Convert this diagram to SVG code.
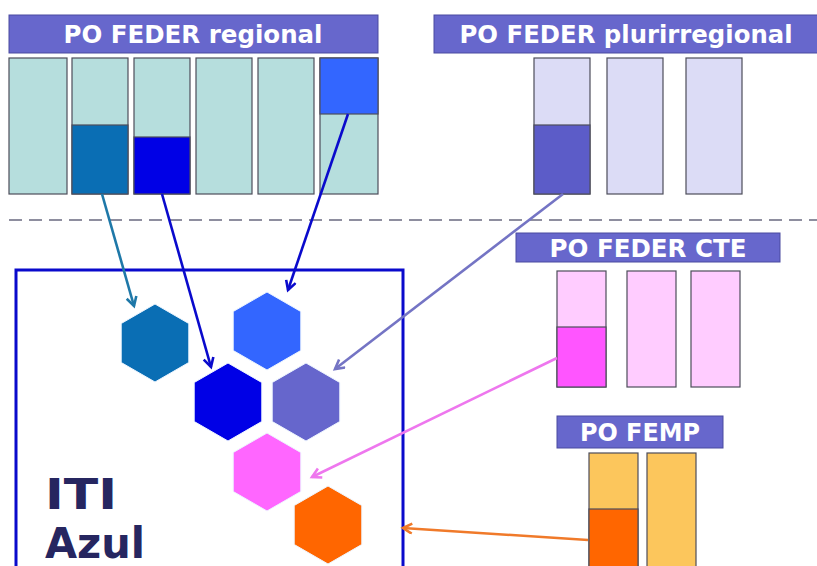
<svg xmlns="http://www.w3.org/2000/svg" width="817" height="566" viewBox="0 0 817 566">
<style>
.title{fill:#6767CC;stroke:#4a4aa0;stroke-width:1}
.tt{font-family:"DejaVu Sans",Verdana,sans-serif;font-weight:bold;font-size:24px;fill:#ffffff;text-anchor:middle}
.bar{stroke:#4d4d5a;stroke-width:1.2}
.reg{fill:#B6DEDD}
.plu{fill:#DCDCF6}
.cte{fill:#FFCCFF}
.femp{fill:#FCC65C}
.hex{stroke:#eef6ff;stroke-width:1}
.arr{fill:none;stroke-width:2.6}
.iti{font-family:"DejaVu Sans",Verdana,sans-serif;font-weight:bold;font-size:43px;fill:#262660}
</style>
<defs>
<polygon id="hx" points="0,-39 33.8,-19.5 33.8,19.5 0,39 -33.8,19.5 -33.8,-19.5"/>
<marker id="mTeal" markerUnits="userSpaceOnUse" markerWidth="14" markerHeight="14" refX="10" refY="6" orient="auto"><path d="M1,1 L10,6 L1,11" fill="none" stroke="#1E78A8" stroke-width="2.6"/></marker>
<marker id="mDark" markerUnits="userSpaceOnUse" markerWidth="14" markerHeight="14" refX="10" refY="6" orient="auto"><path d="M1,1 L10,6 L1,11" fill="none" stroke="#0A0ACC" stroke-width="2.6"/></marker>
<marker id="mPur" markerUnits="userSpaceOnUse" markerWidth="14" markerHeight="14" refX="10" refY="6" orient="auto"><path d="M1,1 L10,6 L1,11" fill="none" stroke="#7474C4" stroke-width="2.6"/></marker>
<marker id="mPink" markerUnits="userSpaceOnUse" markerWidth="14" markerHeight="14" refX="10" refY="6" orient="auto"><path d="M1,1 L10,6 L1,11" fill="none" stroke="#EE77EE" stroke-width="2.6"/></marker>
<marker id="mOr" markerUnits="userSpaceOnUse" markerWidth="14" markerHeight="14" refX="10" refY="6" orient="auto"><path d="M1,1 L10,6 L1,11" fill="none" stroke="#F07A2A" stroke-width="2.6"/></marker>
</defs>
<rect width="817" height="566" fill="#ffffff"/>

<line x1="9" y1="220" x2="817" y2="220" stroke="#6a6a80" stroke-width="1.6" stroke-dasharray="13 7"/>

<g id="po-feder-regional">
<rect class="title" x="9" y="15" width="369" height="38"/>
<text class="tt" x="193" y="43" textLength="259" lengthAdjust="spacingAndGlyphs">PO FEDER regional</text>
<rect class="bar reg" x="9" y="58" width="58" height="136"/>
<rect class="bar reg" x="72" y="58" width="56" height="136"/>
<rect x="72" y="125" width="56" height="69" fill="#0A6EB4" class="bar"/>
<rect class="bar reg" x="134" y="58" width="56" height="136"/>
<rect x="134" y="137" width="56" height="57" fill="#0000E6" class="bar"/>
<rect class="bar reg" x="196" y="58" width="56" height="136"/>
<rect class="bar reg" x="258" y="58" width="56" height="136"/>
<rect class="bar reg" x="320" y="58" width="58" height="136"/>
<rect x="320" y="58" width="58" height="56" fill="#3366FF" class="bar"/>
</g>

<g id="po-feder-plurirregional">
<rect class="title" x="434" y="15" width="384" height="38"/>
<text class="tt" x="626" y="43" textLength="333" lengthAdjust="spacingAndGlyphs">PO FEDER plurirregional</text>
<rect class="bar plu" x="534" y="58" width="56" height="136"/>
<rect x="534" y="125" width="56" height="69" fill="#5C5CC8" class="bar"/>
<rect class="bar plu" x="607" y="58" width="56" height="136"/>
<rect class="bar plu" x="686" y="58" width="56" height="136"/>
</g>

<g id="po-feder-cte">
<rect class="title" x="516" y="233" width="264" height="29"/>
<text class="tt" x="648" y="257" textLength="197" lengthAdjust="spacingAndGlyphs">PO FEDER CTE</text>
<rect class="bar cte" x="557" y="271" width="49" height="116"/>
<rect x="557" y="327" width="49" height="60" fill="#FF55FF" class="bar"/>
<rect class="bar cte" x="627" y="271" width="49" height="116"/>
<rect class="bar cte" x="691" y="271" width="49" height="116"/>
</g>

<g id="po-femp">
<rect class="title" x="557" y="416" width="166" height="32"/>
<text class="tt" x="640" y="441" textLength="120" lengthAdjust="spacingAndGlyphs">PO FEMP</text>
<rect class="bar femp" x="589" y="453" width="49" height="120"/>
<rect x="589" y="509" width="49" height="64" fill="#FF6600" class="bar"/>
<rect class="bar femp" x="647" y="453" width="49" height="120"/>
</g>

<g id="iti-azul">
<rect x="16" y="270" width="387" height="310" fill="none" stroke="#0A0ACC" stroke-width="3"/>
<text class="iti" x="45" y="509" textLength="72" lengthAdjust="spacingAndGlyphs">ITI</text>
<text class="iti" x="45" y="558" textLength="100" lengthAdjust="spacingAndGlyphs">Azul</text>
</g>

<g id="hex-teal"><use href="#hx" class="hex" fill="#0A6EB4" transform="translate(155,343)"/></g>
<g id="hex-blue"><use href="#hx" class="hex" fill="#3366FF" transform="translate(267,331)"/></g>
<g id="hex-darkblue"><use href="#hx" class="hex" fill="#0000E6" transform="translate(228,402)"/></g>
<g id="hex-purple"><use href="#hx" class="hex" fill="#6666CC" transform="translate(306,402)"/></g>
<g id="hex-pink"><use href="#hx" class="hex" fill="#FF66FF" transform="translate(267,472)"/></g>
<g id="hex-orange"><use href="#hx" class="hex" fill="#FF6600" transform="translate(328,525)"/></g>

<g id="connectors">
<line class="arr" x1="102" y1="194" x2="134" y2="306" stroke="#1E78A8" marker-end="url(#mTeal)"/>
<line class="arr" x1="162" y1="194" x2="211" y2="367" stroke="#0A0ACC" marker-end="url(#mDark)"/>
<line class="arr" x1="348" y1="114" x2="288" y2="290" stroke="#0A0ACC" marker-end="url(#mDark)"/>
<line class="arr" x1="563" y1="194" x2="335" y2="369" stroke="#7474C4" marker-end="url(#mPur)"/>
<line class="arr" x1="557" y1="358" x2="312" y2="477" stroke="#EE77EE" marker-end="url(#mPink)"/>
<line class="arr" x1="588" y1="540" x2="403" y2="528" stroke="#F07A2A" marker-end="url(#mOr)"/>
</g>
</svg>
